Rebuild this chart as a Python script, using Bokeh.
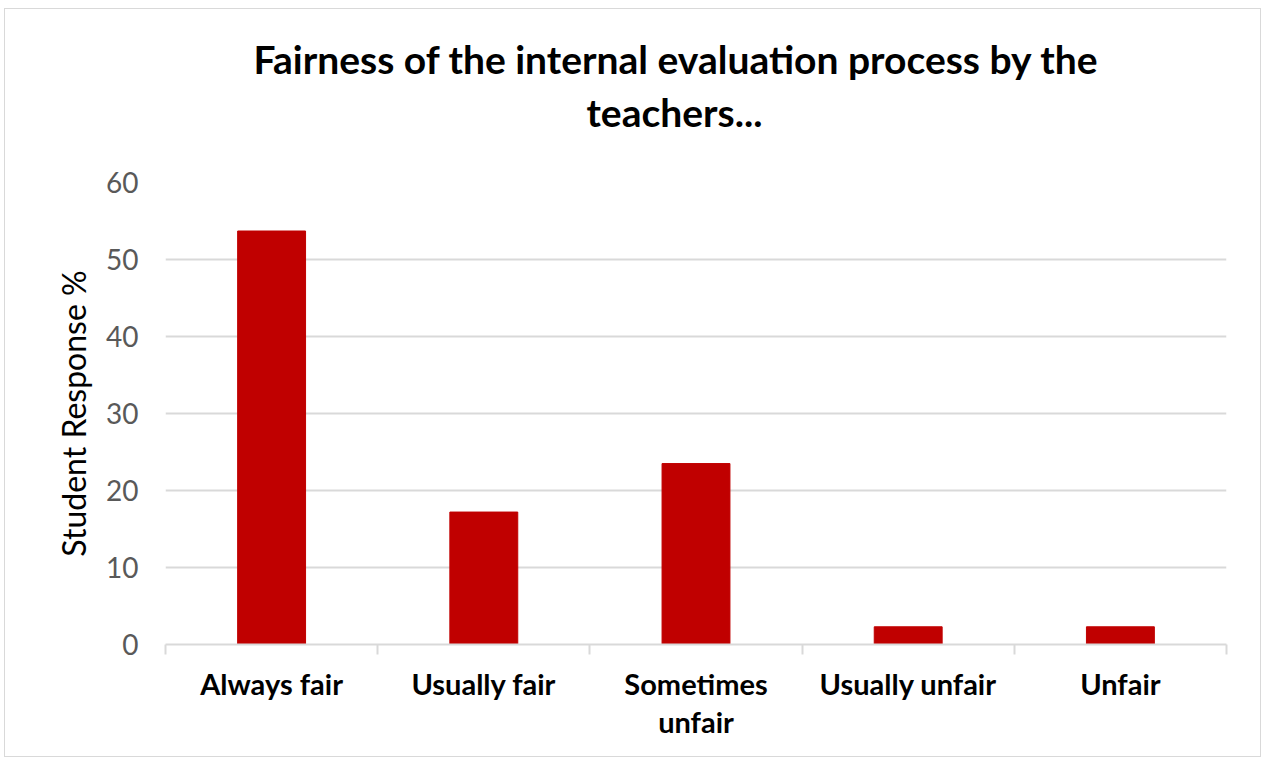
from bokeh.plotting import figure
from bokeh.models import Range1d, FixedTicker, Title, SingleIntervalTicker
from bokeh.embed import file_html
from bokeh.resources import INLINE

categories = ["Always fair", "Usually fair", "Sometimes unfair", "Usually unfair", "Unfair"]
responses = [53.7, 17.2, 23.5, 2.3, 2.3]
y_ticks_interval = 10
y_max = 60
title_line1 = "Fairness of the internal evaluation process by the"
title_line2 = "teachers..."
y_label = "Student Response %"
label_text = {"Sometimes unfair": "Sometimes\nunfair"}

FONT = "Lato"
GRID = "#d9d9d9"
BAR = "#C00000"

n = len(categories)
centers = [i + 0.5 for i in range(n)]
bounds = list(range(n + 1))

p = figure(x_range=Range1d(0, n), y_range=Range1d(0, y_max),
           width=1257, height=749, output_backend="svg", toolbar_location=None,
           min_border_left=160, min_border_right=36,
           min_border_top=173, min_border_bottom=114)
p.styles = {"border": "1px solid #d9d9d9", "margin-left": "4px", "margin-top": "8px"}
p.outline_line_color = None
p.background_fill_color = "white"
p.border_fill_color = "white"

p.vbar(x=centers, top=responses, width=0.32, fill_color=BAR, line_color=BAR)

# y axis
yax = p.yaxis[0]
yax.ticker = SingleIntervalTicker(interval=y_ticks_interval)
yax.axis_line_color = None
yax.major_tick_line_color = None
yax.major_tick_in = 0
yax.major_tick_out = 0
yax.minor_tick_line_color = None
yax.minor_tick_in = 0
yax.minor_tick_out = 0
yax.major_label_text_font = FONT
yax.major_label_text_font_size = "28px"
yax.major_label_text_color = "#595959"
yax.major_label_standoff = 27
yax.axis_label = y_label
yax.axis_label_text_font = FONT
yax.axis_label_text_font_size = "32px"
yax.axis_label_text_font_style = "normal"
yax.axis_label_text_color = "black"
yax.axis_label_standoff = 10

p.ygrid.grid_line_color = GRID
p.ygrid.grid_line_width = 2
p.xgrid.visible = False

# x axis: labels at category centres, separators at boundaries
xax = p.xaxis[0]
xax.ticker = FixedTicker(ticks=centers, minor_ticks=bounds)
xax.major_label_overrides = {c: label_text.get(cat, cat) for c, cat in zip(centers, categories)}
xax.axis_line_color = GRID
xax.axis_line_width = 2
xax.major_tick_line_color = None
xax.major_tick_in = 0
xax.major_tick_out = 0
xax.minor_tick_line_color = GRID
xax.minor_tick_line_width = 2
xax.minor_tick_in = 0
xax.minor_tick_out = 10
xax.major_label_text_font = FONT
xax.major_label_text_font_size = "29px"
xax.major_label_text_font_style = "bold"
xax.major_label_text_color = "black"
xax.major_label_text_line_height = 1.1
xax.major_label_standoff = 11

# titles (added nearest the frame first)
spacer = Title(text=" ", text_font_size="1px", standoff=40)
p.add_layout(spacer, "above")
t2 = Title(text=title_line2, align="left", offset=421, text_font=FONT,
           text_font_size="39px", text_font_style="bold", text_color="black",
           standoff=10)
p.add_layout(t2, "above")
t1 = Title(text=title_line1, align="left", offset=88, text_font=FONT,
           text_font_size="39px", text_font_style="bold", text_color="black",
           standoff=0)
p.add_layout(t1, "above")
p.title.visible = False

open("out.html", "w").write(file_html(p, INLINE))
